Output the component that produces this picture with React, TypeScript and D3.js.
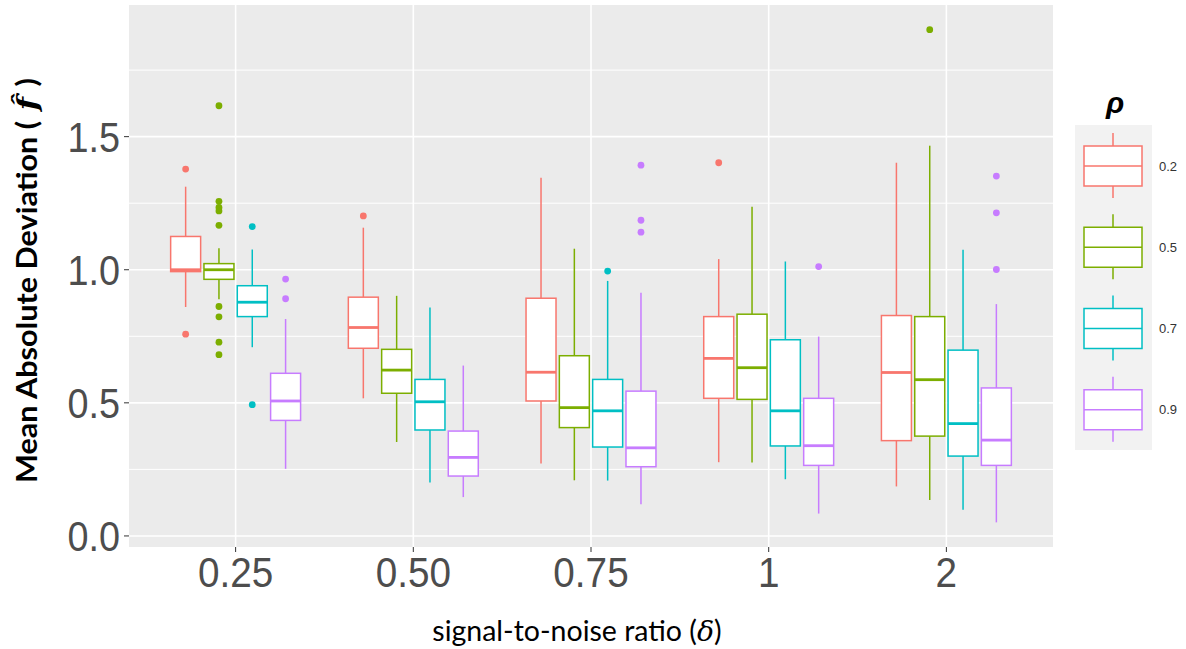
import React from "react";
import * as d3 from "d3";

// signal-to-noise categories and rho groups
const deltas = ["0.25", "0.50", "0.75", "1", "2"];
const rhos = ["0.2", "0.5", "0.7", "0.9"];
const colors = ["#F8766D", "#7CAE00", "#00BFC4", "#C77CFF"];
const yTicks = [0, 0.5, 1, 1.5];
const yMinor = [0.25, 0.75, 1.25, 1.75];

// [lower whisker, q1, median, q3, upper whisker] per delta
const rho02Stats = [
  [0.86, 0.993, 1.0, 1.125, 1.312],
  [0.517, 0.705, 0.783, 0.897, 1.158],
  [0.272, 0.507, 0.615, 0.893, 1.346],
  [0.277, 0.517, 0.667, 0.824, 1.04],
  [0.186, 0.358, 0.614, 0.828, 1.402],
];
const rho05Stats = [
  [0.889, 0.964, 1.0, 1.023, 1.081],
  [0.353, 0.536, 0.623, 0.701, 0.902],
  [0.209, 0.407, 0.482, 0.677, 1.079],
  [0.276, 0.513, 0.632, 0.833, 1.237],
  [0.135, 0.375, 0.587, 0.824, 1.466],
];
const rho07Stats = [
  [0.709, 0.824, 0.878, 0.94, 1.076],
  [0.201, 0.398, 0.504, 0.588, 0.858],
  [0.208, 0.334, 0.47, 0.588, 0.958],
  [0.213, 0.338, 0.47, 0.737, 1.031],
  [0.098, 0.3, 0.422, 0.698, 1.075],
];
const rho09Stats = [
  [0.252, 0.434, 0.507, 0.611, 0.815],
  [0.146, 0.225, 0.295, 0.394, 0.64],
  [0.119, 0.26, 0.331, 0.544, 0.914],
  [0.084, 0.265, 0.339, 0.517, 0.749],
  [0.051, 0.265, 0.36, 0.556, 0.871],
];

const rho02Outliers = [[1.378, 0.758], [1.202], [], [1.402], []];
const rho05Outliers = [
  [1.616, 1.257, 1.234, 1.221, 1.167, 0.862, 0.823, 0.728, 0.681],
  [],
  [],
  [],
  [1.902],
];
const rho07Outliers = [[1.162, 0.493], [], [0.995], [], []];
const rho09Outliers = [[0.965, 0.891], [], [1.393, 1.186, 1.141], [1.012], [1.352, 1.214, 1.001]];

const allStats = [rho02Stats, rho05Stats, rho07Stats, rho09Stats];
const allOutliers = [rho02Outliers, rho05Outliers, rho07Outliers, rho09Outliers];

const W = 1186;
const H = 649;
const panel = { left: 129, right: 1053, top: 5, bottom: 547 };

const App = () => {
  const x = d3
    .scalePoint()
    .domain(deltas)
    .range([panel.left, panel.right])
    .padding(0.6);
  const step = x.step();
  const dodge = d3
    .scaleBand()
    .domain(rhos)
    .range([-0.375 * step, 0.375 * step]);
  const boxW = dodge.bandwidth() * 0.9;

  const vals = allStats.flat(2).concat(allOutliers.flat(2));
  const lo = d3.min(vals), hi = d3.max(vals);
  const pad = (hi - lo) * 0.05;
  const y = d3.scaleLinear().domain([lo - pad, hi + pad]).range([panel.bottom, panel.top]);

  const tickFont = "'Liberation Sans', Arial, sans-serif";

  const legendTop = 125;
  const keyH = 81.25;

  return (
    <svg
      width={W}
      height={H}
      style={{ position: "absolute", left: 0, top: 0, background: "#fff" }}
    >
      {/* panel */}
      <rect
        x={panel.left}
        y={panel.top}
        width={panel.right - panel.left}
        height={panel.bottom - panel.top}
        fill="#EBEBEB"
      />
      {yMinor.map((t) => (
        <line key={"mn" + t} x1={panel.left} x2={panel.right} y1={y(t)} y2={y(t)} stroke="#fff" strokeWidth={1} />
      ))}
      {yTicks.map((t) => (
        <line key={"mj" + t} x1={panel.left} x2={panel.right} y1={y(t)} y2={y(t)} stroke="#fff" strokeWidth={1.6} />
      ))}
      {deltas.map((d) => (
        <line key={"vx" + d} x1={x(d)} x2={x(d)} y1={panel.top} y2={panel.bottom} stroke="#fff" strokeWidth={1.6} />
      ))}

      {/* boxes */}
      {rhos.map((r, ri) =>
        deltas.map((d, di) => {
          const [wl, q1, med, q3, wh] = allStats[ri][di];
          const cx = x(d) + dodge(r) + dodge.bandwidth() / 2;
          const c = colors[ri];
          return (
            <g key={r + "-" + d}>
              <line x1={cx} x2={cx} y1={y(wh)} y2={y(q3)} stroke={c} strokeWidth={1.5} />
              <line x1={cx} x2={cx} y1={y(q1)} y2={y(wl)} stroke={c} strokeWidth={1.5} />
              <rect
                x={cx - boxW / 2}
                y={y(q3)}
                width={boxW}
                height={y(q1) - y(q3)}
                fill="#fff"
                stroke={c}
                strokeWidth={1.5}
              />
              <line x1={cx - boxW / 2} x2={cx + boxW / 2} y1={y(med)} y2={y(med)} stroke={c} strokeWidth={2.8} />
              {allOutliers[ri][di].map((o, oi) => (
                <circle key={oi} cx={cx} cy={y(o)} r={3.4} fill={c} />
              ))}
            </g>
          );
        })
      )}

      {/* y axis */}
      {yTicks.map((t) => (
        <g key={"yt" + t}>
          <line x1={panel.left - 5} x2={panel.left} y1={y(t)} y2={y(t)} stroke="#333" strokeWidth={1} />
          <text
            transform={`translate(${panel.left - 9},${y(t)}) scale(0.9,1)`}
            dy="0.36em"
            textAnchor="end"
            fontFamily={tickFont}
            fontSize={42}
            fill="#4D4D4D"
          >
            {d3.format(".1f")(t)}
          </text>
        </g>
      ))}

      {/* x axis */}
      {deltas.map((d) => (
        <g key={"xt" + d}>
          <line x1={x(d)} x2={x(d)} y1={panel.bottom} y2={panel.bottom + 5} stroke="#333" strokeWidth={1} />
          <text
            transform={`translate(${x(d)},587) scale(0.9,1)`}
            textAnchor="middle"
            fontFamily={tickFont}
            fontSize={43}
            fill="#4D4D4D"
          >
            {d}
          </text>
        </g>
      ))}

      {/* axis titles */}
      <text
        transform={`translate(37,280.5) rotate(-90)`}
        textAnchor="middle"
        fontFamily="Lato, 'Open Sans', sans-serif"
        fontWeight="bold"
        fontSize={28}
        textLength={405}
        lengthAdjust="spacingAndGlyphs"
        fill="#000"
      >
        Mean Absolute Deviation (
        <tspan fontStyle="italic" fontFamily="'DejaVu Serif', serif">{" f\u0302 "}</tspan>)
      </text>
      <text
        x={577}
        y={641}
        textAnchor="middle"
        fontFamily="Lato, 'Open Sans', sans-serif"
        fontSize={28.5}
        fill="#000"
      >
        signal-to-noise ratio (
        <tspan fontStyle="italic" fontFamily="'DejaVu Serif', serif">δ</tspan>)
      </text>

      {/* legend */}
      <text
        x={1115}
        y={113}
        textAnchor="middle"
        fontFamily={tickFont}
        fontWeight="bold"
        fontStyle="italic"
        fontSize={30}
        fill="#000"
      >
        ρ
      </text>
      <rect x={1075} y={legendTop} width={77} height={keyH * 4} fill="#F2F2F2" />
      {rhos.map((r, i) => {
        const y0 = legendTop + keyH * i;
        const c = colors[i];
        const cx = 1113;
        return (
          <g key={"lg" + r}>
            <line x1={cx} x2={cx} y1={y0 + 8} y2={y0 + 21} stroke={c} strokeWidth={1.5} />
            <line x1={cx} x2={cx} y1={y0 + 61} y2={y0 + 73} stroke={c} strokeWidth={1.5} />
            <rect x={1084} y={y0 + 21} width={58} height={40} fill="#fff" stroke={c} strokeWidth={1.5} />
            <line x1={1084} x2={1142} y1={y0 + 41} y2={y0 + 41} stroke={c} strokeWidth={1.5} />
            <text
              x={1159}
              y={y0 + 41}
              dy="0.36em"
              fontFamily={tickFont}
              fontSize={13}
              fill="#333"
            >
              {r}
            </text>
          </g>
        );
      })}
    </svg>
  );
};

export default App;
